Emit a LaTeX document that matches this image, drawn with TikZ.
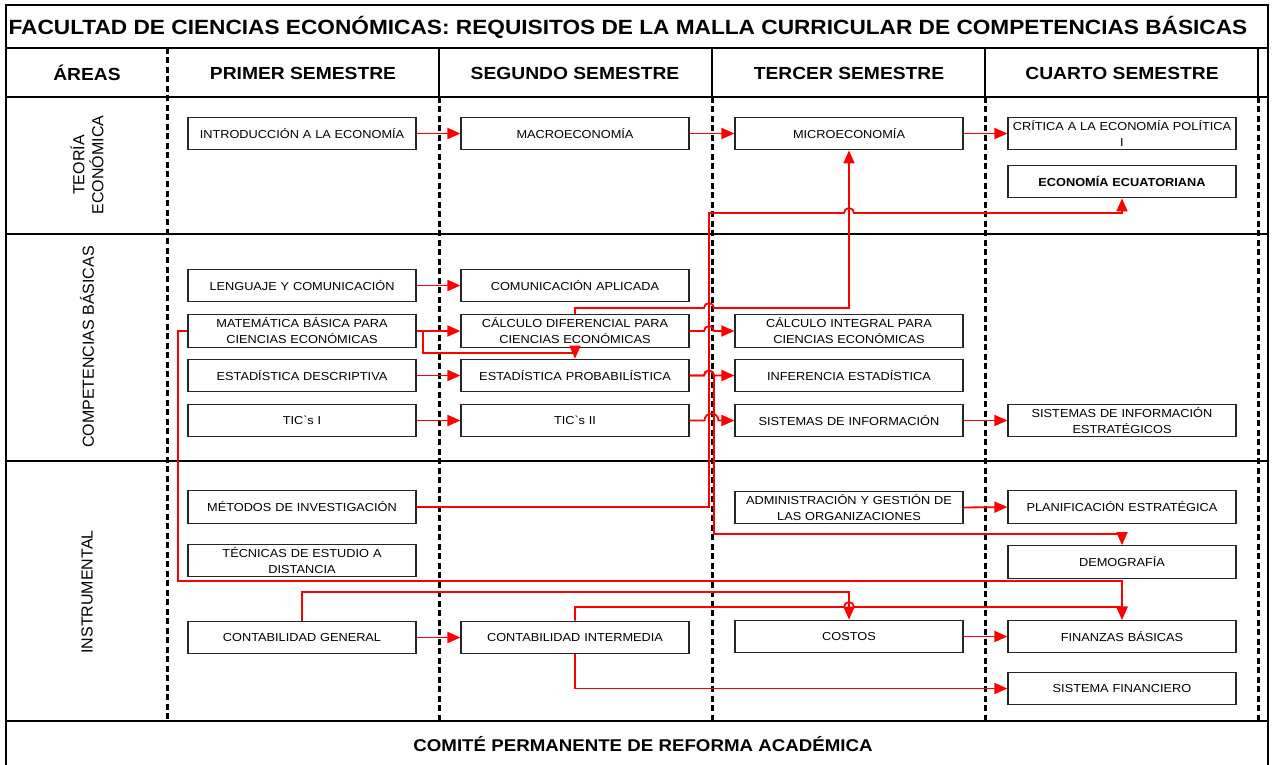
\documentclass[tikz,border=0pt]{standalone}
\usepackage{fontspec}
\setmainfont{Liberation Sans}[FakeStretch=1.1]
\newfontfamily\rotfont{Liberation Sans}
\usetikzlibrary{arrows.meta}
\begin{document}
\begin{tikzpicture}[x=1pt,y=-1pt,
  box/.style={draw=black!85, line width=1.2pt, minimum width=228pt, minimum height=32.5pt,
    inner sep=0pt, align=center, text width=226pt, font=\fontsize{11.6}{16}\selectfont},
  req/.style={draw=red, line width=1.8pt, -{Triangle[length=13pt,width=11pt]}},
  grid/.style={draw=black, line width=1.4pt},
  sep/.style={draw=black, line width=1.2pt},
  dsep/.style={draw=black, line width=3pt, dash pattern=on 6pt off 3.5pt},
  head/.style={font=\bfseries\fontsize{17.5}{20}\selectfont},
  area/.style={rotate=90, align=center, font=\rotfont\fontsize{16}{19}\selectfont}
]
\useasboundingbox (0,0) rectangle (1272,765);
\fill[white] (0,0) rectangle (1272,765);

% frame and grid
\draw[grid] (6,765) -- (6,5) -- (1268,5) -- (1268,765);
\foreach \yy in {48,97,234,461,721} \draw[grid] (6,\yy) -- (1268,\yy);
\foreach \xx in {439,712,985,1258} \draw[sep] (\xx,48) -- (\xx,97);
\draw[dsep] (167,48) -- (167,721);
\foreach \xx in {439,712,985,1258} \draw[dsep] (\xx,97) -- (\xx,721);

% texts
\node[font=\bfseries\fontsize{20.6}{24}\selectfont] (title) at (628,27)
  {FACULTAD DE CIENCIAS ECONÓMICAS: REQUISITOS DE LA MALLA CURRICULAR DE COMPETENCIAS BÁSICAS};
\node[head] (hareas) at (87,73) {ÁREAS};
\node[head] (hs1) at (303,73) {PRIMER SEMESTRE};
\node[head] (hs2) at (575,73) {SEGUNDO SEMESTRE};
\node[head] (hs3) at (849,73) {TERCER SEMESTRE};
\node[head] (hs4) at (1122,73) {CUARTO SEMESTRE};
\node[head, font=\bfseries\fontsize{17}{20}\selectfont] (foot) at (643,744) {COMITÉ PERMANENTE DE REFORMA ACADÉMICA};
\node[area] (ateo) at (87,165) {TEORÍA\\ECONÓMICA};
\node[area] (acomp) at (87,347) {COMPETENCIAS BÁSICAS};
\node[area] (ainst) at (87,592) {INSTRUMENTAL};

% boxes: row 1
\node[box] (intro) at (302,133.5) {INTRODUCCIÓN A LA ECONOMÍA};
\node[box] (macro) at (575,133.5) {MACROECONOMÍA};
\node[box] (micro) at (849,133.5) {MICROECONOMÍA};
\node[box] (critica) at (1122,133.5) {CRÍTICA A LA ECONOMÍA POLÍTICA\\I};
\node[box, font=\bfseries\fontsize{11.6}{16}\selectfont] (econec) at (1122,181.5) {ECONOMÍA ECUATORIANA};
% row 2
\node[box] (leng) at (302,285.5) {LENGUAJE Y COMUNICACIÓN};
\node[box] (com) at (575,285.5) {COMUNICACIÓN APLICADA};
\node[box] (mat) at (302,331) {MATEMÁTICA BÁSICA PARA\\CIENCIAS ECONÓMICAS};
\node[box] (cdif) at (575,331) {CÁLCULO DIFERENCIAL PARA\\CIENCIAS ECONÓMICAS};
\node[box] (cint) at (849,331) {CÁLCULO INTEGRAL PARA\\CIENCIAS ECONÓMICAS};
\node[box] (estd) at (302,375.5) {ESTADÍSTICA DESCRIPTIVA};
\node[box] (eprob) at (575,375.5) {ESTADÍSTICA PROBABILÍSTICA};
\node[box] (inf) at (849,375.5) {INFERENCIA ESTADÍSTICA};
\node[box] (tic1) at (302,420.5) {TIC\textasciigrave s I};
\node[box] (tic2) at (575,420.5) {TIC\textasciigrave s II};
\node[box] (sinf) at (849,420.5) {SISTEMAS DE INFORMACIÓN};
\node[box] (sinfe) at (1122,420.5) {SISTEMAS DE INFORMACIÓN\\ESTRATÉGICOS};
% row 3
\node[box] (met) at (302,507) {MÉTODOS DE INVESTIGACIÓN};
\node[box] (adm) at (849,507.5) {ADMINISTRACIÓN Y GESTIÓN DE\\LAS ORGANIZACIONES};
\node[box] (plan) at (1122,507) {PLANIFICACIÓN ESTRATÉGICA};
\node[box] (tec) at (302,560.5) {TÉCNICAS DE ESTUDIO A\\DISTANCIA};
\node[box] (demo) at (1122,562) {DEMOGRAFÍA};
\node[box] (cg) at (302,637.5) {CONTABILIDAD GENERAL};
\node[box] (cinter) at (575,637.5) {CONTABILIDAD INTERMEDIA};
\node[box] (costos) at (849,636.5) {COSTOS};
\node[box] (fin) at (1122,636.5) {FINANZAS BÁSICAS};
\node[box] (sf) at (1122,688.5) {SISTEMA FINANCIERO};

% straight requirements
\draw[req] (intro.east) -- (macro.west);
\draw[req] (macro.east) -- (micro.west);
\draw[req] (micro.east) -- (critica.west);
\draw[req] (leng.east) -- (com.west);
\draw[req] (mat.east) -- (cdif.west);
\draw[req] (estd.east) -- (eprob.west);
\draw[req] (tic1.east) -- (tic2.west);
\draw[req] (sinf.east) -- (sinfe.west);
\draw[req] (adm.east) -- (plan.west);
\draw[req] (cg.east) -- (cinter.west);
\draw[req] (costos.east) -- (fin.west);

% with hops
\draw[req] (cdif.east) -- (704,331) arc[start angle=180,end angle=360,radius=5] -- (cint.west);
\draw[req] (eprob.east) -- (704,375.5) arc[start angle=180,end angle=360,radius=5] -- (inf.west);
\draw[req] (tic2.east) -- (704.5,420.5) arc[start angle=180,end angle=360,radius=7] -- (sinf.west);
\draw[req] (cdif.north) -- (575,308) -- (704,308) arc[start angle=180,end angle=360,radius=5] -- (849,308) -- (micro.south);
\draw[req] (met.east) -- (709,507) -- (709,213) -- (844,213) arc[start angle=180,end angle=360,radius=5] -- (1122,213) -- (econec.south);
\draw[req] (eprob.east) -- (704,375.5) arc[start angle=180,end angle=360,radius=5] -- (714,375.5) -- (714,534) -- (1122,534) -- (demo.north);
\draw[req] (mat.east) -- (423,331) -- (423,353) -- (575,353) -- (eprob.north);
\draw[req] (mat.west) -- (178,331) -- (178,581) -- (1122,581) -- (fin.north);
\draw[req] (cg.north) -- (302,592) -- (849,592) -- (costos.north);
\draw[req] (cinter.north) -- (575,607) -- (844,607) arc[start angle=180,end angle=360,radius=5] -- (1122,607) -- (fin.north);
\draw[req] (cinter.south) -- (575,688.5) -- (sf.west);
\end{tikzpicture}
\end{document}
